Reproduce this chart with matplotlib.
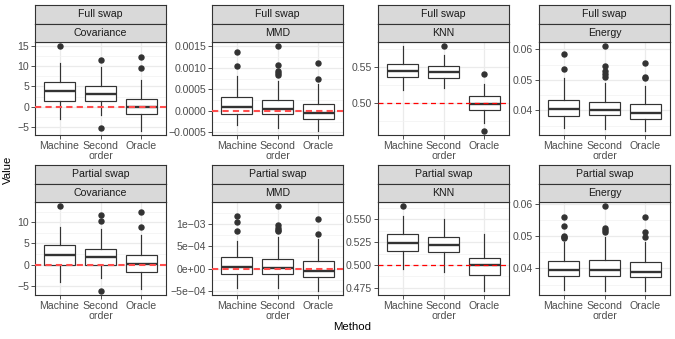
import numpy as np
import matplotlib.pyplot as plt
from matplotlib.ticker import FixedLocator, MultipleLocator, FuncFormatter

plt.rcParams['font.family'] = ['Liberation Sans', 'DejaVu Sans']

# ---------- data (box summaries) ----------
methods = ["Machine", "Second\norder", "Oracle"]
metrics = ["Covariance", "MMD", "KNN", "Energy"]
swaps = ["Full swap", "Partial swap"]
ref_lines = {"Covariance": 0.0, "MMD": 0.0, "KNN": 0.5}

# each panel: whisker low, q1, median, q3, whisker high, outliers per method
full_cov = dict(lo=[-3.2, -2.0, -6.0], q1=[1.3, 1.3, -1.8], med=[3.8, 3.1, 0.0],
                q3=[6.05, 5.0, 2.0], hi=[10.8, 9.8, 6.7],
                out=[[15.0], [11.5, -5.2], [12.3, 9.5]])
full_mmd = dict(lo=[-0.00032, -0.00039, -0.00046], q1=[-0.00006, -0.00006, -0.00019],
                med=[0.0001, 0.00005, -0.00005], q3=[0.00032, 0.000255, 0.00016],
                hi=[0.00081, 0.0007, 0.00062],
                out=[[0.00137, 0.00105], [0.0015, 0.00106, 0.00093, 0.00088, 0.00083],
                     [0.00112, 0.00075]])
full_knn = dict(lo=[0.5176, 0.5214, 0.4714], q1=[0.5367, 0.5353, 0.4908],
                med=[0.5444, 0.543, 0.4986], q3=[0.5542, 0.5514, 0.5093],
                hi=[0.5792, 0.5672, 0.526],
                out=[[], [0.579], [0.5399, 0.4611]])
full_energy = dict(lo=[0.03427, 0.03374, 0.0333], q1=[0.03806, 0.03838, 0.0373],
                   med=[0.04055, 0.04022, 0.03914], q3=[0.04324, 0.04282, 0.04205],
                   hi=[0.0506, 0.04898, 0.0481],
                   out=[[0.05838, 0.05352], [0.0610, 0.05459, 0.05275, 0.0519, 0.05102],
                        [0.05566, 0.05081, 0.0505]])
part_cov = dict(lo=[-4.14, -3.2, -5.86], q1=[0.0, 0.0, -1.72], med=[2.19, 1.8, 0.16],
                q3=[4.53, 3.67, 2.19], hi=[8.75, 8.36, 6.9],
                out=[[13.75], [11.7, 10.3, -6.17], [12.3, 8.75]])
part_mmd = dict(lo=[-0.00043, -0.00043, -0.00049], q1=[-0.000118, -0.000118, -0.000192],
                med=[0.000044, 0.000007, -0.000059], q3=[0.000259, 0.000215, 0.000163],
                hi=[0.000622, 0.000703, 0.00066],
                out=[[0.00118, 0.00105, 0.00083], [0.00139, 0.00097, 0.0009, 0.00086, 0.00083],
                     [0.00111, 0.00077]])
part_knn = dict(lo=[0.4953, 0.4928, 0.4717], q1=[0.5152, 0.5138, 0.4891],
                med=[0.5236, 0.5214, 0.4996], q3=[0.5337, 0.5312, 0.5072],
                hi=[0.5536, 0.55, 0.5337],
                out=[[0.5645], [], []])
part_energy = dict(lo=[0.03326, 0.03306, 0.03306], q1=[0.03762, 0.03772, 0.03741],
                   med=[0.03938, 0.03959, 0.03876], q3=[0.04218, 0.04269, 0.04207],
                   hi=[0.04808, 0.04984, 0.04808],
                   out=[[0.05585, 0.05326, 0.05016, 0.0498, 0.04953],
                        [0.05927, 0.05244, 0.05181, 0.05119],
                        [0.05585, 0.05119, 0.04963]])

panels = [[full_cov, full_mmd, full_knn, full_energy],
          [part_cov, part_mmd, part_knn, part_energy]]

# ---------- tick setup per panel ----------
def minus(s):
    return s.replace("-", "\u2212")

fmt_int = FuncFormatter(lambda v, p: minus(f"{v:.0f}"))
fmt_4 = FuncFormatter(lambda v, p: minus(f"{v:.4f}"))
fmt_2 = FuncFormatter(lambda v, p: minus(f"{v:.2f}"))
fmt_3 = FuncFormatter(lambda v, p: minus(f"{v:.3f}"))
fmt_e = FuncFormatter(lambda v, p: minus(f"{v:.0e}"))

ticks = [[(np.arange(-5, 16, 5), fmt_int), (np.arange(-0.0005, 0.0016, 0.0005), fmt_4),
          ([0.50, 0.55], fmt_2), ([0.04, 0.05, 0.06], fmt_2)],
         [(np.arange(-5, 11, 5), fmt_int), (np.arange(-0.0005, 0.0011, 0.0005), fmt_e),
          ([0.475, 0.5, 0.525, 0.55], fmt_3), ([0.04, 0.05, 0.06], fmt_2)]]

# ---------- layout (pixels) ----------
W, H = 675, 339
col_left = [35, 212, 378, 539]
pw = 131
row_top = [42, 202]
ph = 93
strip_h = 18.5

dark = "#333333"
grid_c = "#EBEBEB"

def rect(l, t, w, h):
    return [l / W, 1 - (t + h) / H, w / W, h / H]

fig = plt.figure(figsize=(W / 100, H / 100), dpi=100)

for r in range(2):
    for c in range(4):
        d = panels[r][c]
        ax = fig.add_axes(rect(col_left[c], row_top[r], pw, ph))
        stats = []
        for i in range(3):
            stats.append(dict(whislo=d["lo"][i], q1=d["q1"][i], med=d["med"][i],
                              q3=d["q3"][i], whishi=d["hi"][i], fliers=d["out"][i]))
        ax.bxp(stats, positions=[1, 2, 3], widths=0.75, patch_artist=True,
               showcaps=False,
               boxprops=dict(facecolor="white", edgecolor=dark, linewidth=0.85),
               medianprops=dict(color=dark, linewidth=1.7),
               whiskerprops=dict(color=dark, linewidth=0.85),
               flierprops=dict(marker="o", markersize=3.6, markerfacecolor=dark,
                               markeredgecolor=dark, linestyle="none"),
               zorder=3)
        metric = metrics[c]
        allv = np.concatenate([d["lo"], d["hi"], sum(d["out"], [])])
        if metric in ref_lines:
            allv = np.append(allv, ref_lines[metric])
            if metric == "KNN":
                ax.axhline(ref_lines[metric], color="red", linewidth=0.9,
                           dashes=(4, 3), zorder=4)
            else:
                ax.axhline(ref_lines[metric], color="#FF4D4D", linewidth=1.5,
                           dashes=(3, 2), zorder=4)
        lo, hi = allv.min(), allv.max()
        span = hi - lo
        ax.set_ylim(lo - 0.05 * span, hi + 0.05 * span)
        ax.set_xlim(0.4, 3.6)

        tk, fm = ticks[r][c]
        tk = np.asarray(tk, dtype=float)
        step = tk[1] - tk[0]
        ax.yaxis.set_major_locator(FixedLocator(tk))
        ax.yaxis.set_minor_locator(FixedLocator(np.arange(tk[0] - 1.5 * step, tk[-1] + 2 * step, step)))
        ax.yaxis.set_major_formatter(fm)
        ax.set_xticks([1, 2, 3])
        ax.set_xticklabels(methods, linespacing=0.95)

        ax.grid(True, which="major", color=grid_c, linewidth=0.9, zorder=0)
        ax.grid(True, which="minor", axis="y", color="#F2F2F2", linewidth=0.5, zorder=0)
        ax.set_axisbelow(True)
        ax.tick_params(axis="both", which="major", length=2.8, width=0.6, color=dark,
                       labelsize=7.6, labelcolor="#4D4D4D", pad=1.5)
        ax.tick_params(axis="y", which="minor", length=0)
        for s in ax.spines.values():
            s.set_color(dark)
            s.set_linewidth(0.8)

        # two-level strips
        for k, lab in enumerate([swaps[r], metric]):
            top = row_top[r] - 2 * strip_h + k * strip_h
            sx = fig.add_axes(rect(col_left[c], top, pw, strip_h))
            sx.set_facecolor("#D9D9D9")
            sx.set_xticks([])
            sx.set_yticks([])
            for s in sx.spines.values():
                s.set_color(dark)
                s.set_linewidth(0.8)
            sx.text(0.5, 0.5, lab, ha="center", va="center", fontsize=7.6,
                    color="#1A1A1A", transform=sx.transAxes)

fig.text(8 / W, 1 - 170 / H, "Value", rotation=90, ha="center", va="center",
         fontsize=8.2, color="black")
fig.text(352 / W, 1 - 327 / H, "Method", ha="center", va="center",
         fontsize=8.2, color="black")

fig.savefig("out.png", dpi=100)
